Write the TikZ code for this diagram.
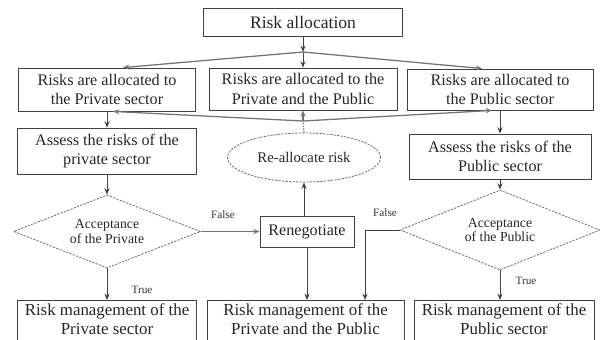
\documentclass[tikz,border=0pt]{standalone}
\usepackage{fontspec}
\setmainfont{Liberation Serif}
\usetikzlibrary{arrows.meta,calc,shapes.geometric}
\tikzset{
  box/.style = {draw=black!75, line width=0.6pt, rectangle, inner sep=0pt,
    align=center, text=black!85},
  dashshape/.style = {draw=black!55, line width=0.6pt,
    dash pattern=on 1.6pt off 0.9pt, inner sep=0pt, align=center, text=black!85},
  arr/.style = {draw=black!75, line width=0.6pt, -{Stealth[length=4.5pt,width=3.6pt]}},
  link/.style = {draw=black!55, line width=0.9pt},
  lbl/.style = {font=\fontsize{8}{9}\selectfont, text=black!80, inner sep=0pt},
  bigfont/.style = {font=\fontsize{12.5}{13.6}\selectfont},
  lowfont/.style = {font=\fontsize{12}{13.6}\selectfont},
  midfont/.style = {font=\fontsize{11.5}{14}\selectfont},
  smallfont/.style = {font=\fontsize{9.8}{10.4}\selectfont}
}

\begin{document}
\begin{tikzpicture}[x=0.025cm,y=-0.025cm]

  \useasboundingbox (0,0) rectangle (604,340);

  \node[box, bigfont, minimum width=4.975cm, minimum height=0.7cm] (alloc) at (303,22) {Risk allocation};

  \node[box, midfont, minimum width=4.425cm, minimum height=1.075cm] (privA) at (107,89.5) {Risks are allocated to\\the Private sector};
  \node[box, midfont, minimum width=4.7cm, minimum height=1.05cm] (bothA) at (303,89) {Risks are allocated to the\\Private and the Public};
  \node[box, midfont, minimum width=4.65cm, minimum height=1.025cm] (pubA) at (500,89.5) {Risks are allocated to\\the Public sector};

  \node[box, midfont, minimum width=4.475cm, minimum height=1.15cm] (assPriv) at (107,151) {Assess the risks of the\\private sector};
  \node[box, midfont, minimum width=4.55cm, minimum height=1.125cm] (assPub) at (500,156.5) {Assess the risks of the\\Public sector};

  \node[dashshape, ellipse, font=\fontsize{10.5}{12}\selectfont, minimum width=3.825cm, minimum height=1.225cm] (reall) at (304,157.5) {Re-allocate risk};

  \node[dashshape, diamond, smallfont, shape aspect=2.56, minimum width=4.675cm, minimum height=1.825cm] (accPriv) at (107,231.5) {Acceptance\\of the Private};
  \node[dashshape, diamond, smallfont, shape aspect=2.5, minimum width=5cm, minimum height=2cm] (accPub) at (500,230) {Acceptance\\of the Public};

  \node[box, midfont, minimum width=2.35cm, minimum height=0.775cm] (reneg) at (307,231.5) {Renegotiate};

  \node[box, lowfont, anchor=north, inner ysep=2.5pt, text depth=20pt, minimum width=4.475cm] (mgmtPriv) at (107,300) {Risk management of the\\Private sector};
  \node[box, lowfont, anchor=north, inner ysep=2.5pt, text depth=20pt, minimum width=4.925cm] (mgmtBoth) at (305.5,300) {Risk management of the\\Private and the Public};
  \node[box, lowfont, anchor=north, inner ysep=2.5pt, text depth=20pt, minimum width=4.5cm] (mgmtPub) at (504,300) {Risk management of the\\Public sector};

  \coordinate (split) at (303,52);
  \coordinate (join) at (303,121);

  \draw[arr] (alloc.south) -- (split);
  \draw[arr] (split) -- (bothA.north);
  \draw[arr, link] (split) -- ($(privA.north)+(16,0)$);
  \draw[arr, link] (split) -- ($(pubA.north)+(-18,0)$);

  \draw[link, dash pattern=on 1pt off 1pt] (reall.north) -- (join);
  \draw[arr, link] (join) -- (bothA.south);
  \draw[arr, link] (join) -- ($(privA.south)+(6,0)$);
  \draw[arr, link] (join) -- ($(pubA.south)+(-8,0)$);

  \draw[arr] (privA.south) -- (assPriv.north);
  \draw[arr] (assPriv.south) -- (accPriv.north);
  \draw[arr] (accPriv.south) -- (mgmtPriv.north);
  \draw[arr, link] (accPriv.east) -- (reneg.west);

  \draw[arr] (reneg.north -| reall) -- (reall.south);
  \draw[arr] (reneg.south) -- (reneg.south |- mgmtBoth.north);

  \draw[arr] (pubA.south) -- (assPub.north);
  \draw[arr] (assPub.south) -- (accPub.north);
  \draw[arr] (accPub.south) -- (accPub.south |- mgmtPub.north);
  \draw[arr] (accPub.west) -| ($(mgmtBoth.north)+(59.5,0)$);

  \node[lbl] (falsePriv) at (223,215) {False};
  \node[lbl] (falsePub) at (385,212.5) {False};
  \node[lbl] (truePriv) at (142,290) {True};
  \node[lbl] (truePub) at (526,281) {True};

\end{tikzpicture}
\end{document}
